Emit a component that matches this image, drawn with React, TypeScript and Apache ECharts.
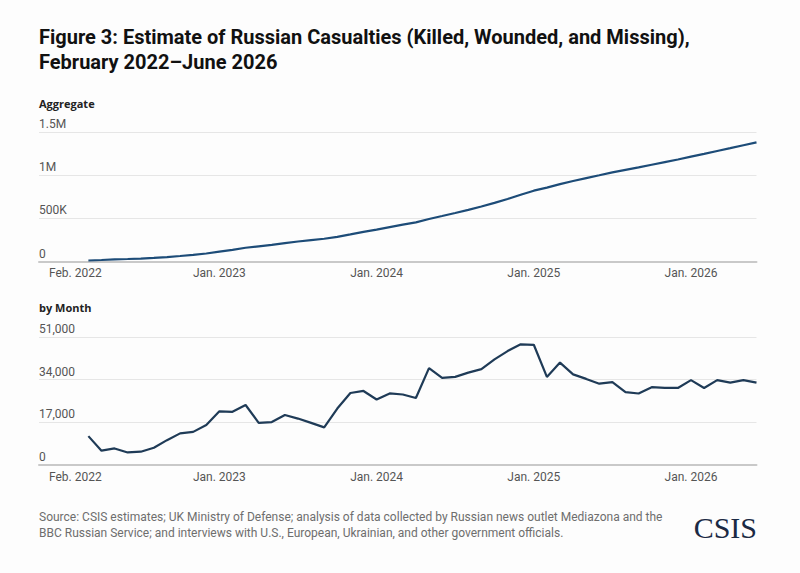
import React, { useEffect, useRef } from "react";
import * as echarts from "echarts";

// Monthly Russian casualties (killed, wounded, missing), first figure = Feb. 2022
const monthlyCasualties = [
  11500, 5700, 6600, 5000, 5300, 6900, 9900, 12600, 13200, 15900,
  21400, 21200, 23900, 16800, 17100, 19900, 18500, 16800, 15000, 22500,
  28700, 29500, 26100, 28500, 28100, 26700, 38600, 34700, 35100, 36800,
  38200, 42100, 45400, 48100, 47900, 35100, 40800, 36100, 34300, 32400,
  33000, 29000, 28500, 31000, 30700, 30700, 33800, 30700, 33800, 32800,
  33800, 32800,
];

// Running total of the monthly figures
const aggregateCasualties = [
  11500, 17200, 23800, 28800, 34100, 41000, 50900, 63500, 76700, 92600,
  114000, 135200, 159100, 175900, 193000, 212900, 231400, 248200, 263200, 285700,
  314400, 343900, 370000, 398500, 426600, 453300, 491900, 526600, 561700, 598500,
  636700, 678800, 724200, 772300, 820200, 855300, 896100, 932200, 966500, 998900,
  1031900, 1060900, 1089400, 1120400, 1151100, 1181800, 1215600, 1246300, 1280100, 1312900,
  1346700, 1379500,
];

// x is counted in months after Jan. 2022; each monthly figure sits at the close of its month
const seriesStartMonth = 2;

const xTickMonths = [1, 12, 24, 36, 48];
const xTickLabels = ["Feb. 2022", "Jan. 2023", "Jan. 2024", "Jan. 2025", "Jan. 2026"];

const aggTicks = [0, 500000, 1000000, 1500000];
const aggTickLabels = ["0", "500K", "1M", "1.5M"];

const monthTicks = [0, 17000, 34000, 51000];
const monthTickLabels = ["0", "17,000", "34,000", "51,000"];

const TITLE = "Figure 3: Estimate of Russian Casualties (Killed, Wounded, and Missing),\nFebruary 2022\u2013June 2026";
const SOURCE =
  "Source: CSIS estimates; UK Ministry of Defense; analysis of data collected by Russian news outlet Mediazona and the\nBBC Russian Service; and interviews with U.S., European, Ukrainian, and other government officials.";

const LABEL_FONT = "Roboto, 'Noto Sans', sans-serif";

function pairs(values: number[]) {
  return values.map((v, i) => [seriesStartMonth + i, v]);
}

function xAxisFor(gridIndex: number, margin: number) {
  return {
    type: "value" as const,
    gridIndex,
    min: -1.77,
    max: 53,
    splitLine: { show: false },
    axisTick: { show: false },
    axisLine: { show: true, lineStyle: { color: "#c9c9c9", width: 2 } },
    axisLabel: {
      customValues: xTickMonths,
      margin,
      color: "#555555",
      fontSize: 12,
      fontFamily: LABEL_FONT,
      formatter: (v: number) => {
        const k = xTickMonths.indexOf(Math.round(v));
        return k >= 0 ? xTickLabels[k] : "";
      },
    },
  };
}

function yAxisFor(gridIndex: number, max: number, ticks: number[], labels: string[]) {
  return {
    type: "value" as const,
    gridIndex,
    min: 0,
    max,
    interval: ticks[1],
    axisLine: { show: false },
    axisTick: { show: false },
    splitLine: { show: true, lineStyle: { color: "#e6e6e6", width: 1 } },
    axisLabel: {
      inside: true,
      margin: 0,
      align: "left" as const,
      verticalAlign: "bottom" as const,
      lineHeight: 14,
      padding: [0, 0, 1, 0],
      color: "#555555",
      fontSize: 12,
      fontFamily: LABEL_FONT,
      formatter: (v: number) => {
        const k = ticks.indexOf(v);
        return k >= 0 ? labels[k] : "";
      },
    },
  };
}

export default function App() {
  const ref = useRef<HTMLDivElement>(null);

  useEffect(() => {
    if (!ref.current) return;
    const chart = echarts.init(ref.current, undefined, { renderer: "svg" });
    chart.setOption({
      animation: false,
      backgroundColor: "#fdfdfd",
      grid: [
        { left: 39, top: 132, width: 717.5, height: 129.5 },
        { left: 39, top: 337, width: 717.5, height: 128 },
      ],
      xAxis: [xAxisFor(0, 5), xAxisFor(1, 6)],
      yAxis: [
        yAxisFor(0, 1500000, aggTicks, aggTickLabels),
        yAxisFor(1, 51000, monthTicks, monthTickLabels),
      ],
      series: [
        {
          name: "Aggregate",
          type: "line",
          xAxisIndex: 0,
          yAxisIndex: 0,
          data: pairs(aggregateCasualties),
          showSymbol: false,
          symbol: "none",
          lineStyle: { color: "#1d4c78", width: 2.2 },
        },
        {
          name: "by Month",
          type: "line",
          xAxisIndex: 1,
          yAxisIndex: 1,
          data: pairs(monthlyCasualties),
          showSymbol: false,
          symbol: "none",
          lineStyle: { color: "#1f3b57", width: 2.2 },
        },
      ],
      graphic: [
        {
          type: "text",
          x: 39,
          y: 25,
          scaleX: 1.0,
          style: {
            text: TITLE,
            font: "bold 20px Roboto, sans-serif",
            fill: "#111111",
            lineHeight: 24.5,
            textVerticalAlign: "top",
          },
        },
        {
          type: "text",
          x: 39,
          y: 103.5,
          style: {
            text: "Aggregate",
            font: "bold 11px 'Open Sans', sans-serif",
            fill: "#222222",
            textVerticalAlign: "middle",
          },
        },
        {
          type: "text",
          x: 39,
          y: 307,
          style: {
            text: "by Month",
            font: "bold 11px 'Open Sans', sans-serif",
            fill: "#222222",
            textVerticalAlign: "middle",
          },
        },
        {
          type: "text",
          x: 39,
          y: 509,
          style: {
            text: SOURCE,
            font: "12px Roboto, sans-serif",
            fill: "#6e6e6e",
            lineHeight: 16,
            textVerticalAlign: "top",
          },
        },
        {
          type: "text",
          x: 757,
          y: 527,
          style: {
            text: "CSIS",
            font: "30px 'Liberation Serif', serif",
            fill: "#1b2a44",
            textAlign: "right",
            textVerticalAlign: "middle",
          },
        },
      ],
    });
    return () => chart.dispose();
  }, []);

  return (
    <div
      ref={ref}
      style={{ position: "fixed", left: 0, top: 0, width: 800, height: 573 }}
    />
  );
}
